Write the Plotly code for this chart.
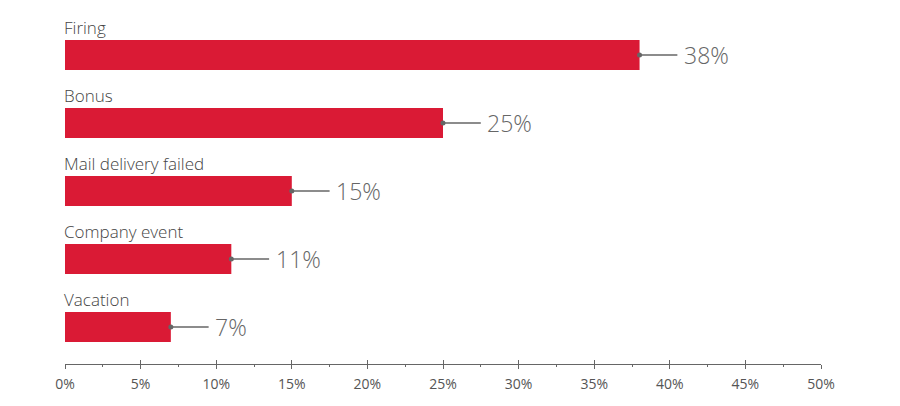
import plotly.graph_objects as go

categories = ["Firing", "Bonus", "Mail delivery failed", "Company event", "Vacation"]
values = [38, 25, 15, 11, 7]
tick_vals = [0, 5, 10, 15, 20, 25, 30, 35, 40, 45, 50]
tick_text = ["0%", "5%", "10%", "15%", "20%", "25%", "30%", "35%", "40%", "45%", "50%"]

bar_color = "#DA1A35"
grey = "#666666"
pos = list(range(len(categories)))

fig = go.Figure()

fig.add_trace(go.Bar(x=values, y=pos, orientation="h", width=0.44,
                     marker=dict(color=bar_color, line=dict(width=0)),
                     hoverinfo="skip"))

# leader lines from bar end to the value label
for i, v in enumerate(values):
    fig.add_trace(go.Scatter(x=[v, v + 2.5], y=[i, i], mode="lines",
                             line=dict(color=grey, width=1.3), hoverinfo="skip"))
    fig.add_trace(go.Scatter(x=[v], y=[i], mode="markers",
                             marker=dict(color=grey, size=5), hoverinfo="skip"))
    fig.add_annotation(x=v + 2.8, y=i, text=f"{v}%", showarrow=False,
                       xanchor="left", yanchor="middle",
                       font=dict(size=23, color="#666666", family="Open Sans", weight=300))
    fig.add_annotation(x=0, y=i - 0.41, text=categories[i], showarrow=False,
                       xanchor="left", yanchor="middle", xshift=-3,
                       font=dict(size=17, color="#444444", family="Open Sans", weight=300))

# second axis only to make the tick marks cross the axis line
fig.add_trace(go.Scatter(x=[0], y=[0], xaxis="x2", mode="markers",
                         marker=dict(opacity=0), hoverinfo="skip"))

axis_common = dict(range=[0, 50], showgrid=False, zeroline=False,
                   tickvals=tick_vals, ticklen=4, tickwidth=1.3, tickcolor=grey,
                   minor=dict(dtick=2.5, tick0=0, ticklen=2, tickwidth=1.3, tickcolor=grey))

fig.update_layout(
    width=900, height=406,
    margin=dict(l=57, r=87, t=0, b=50),
    paper_bgcolor="white", plot_bgcolor="white",
    showlegend=False,
    xaxis=dict(**axis_common, ticks="outside", ticktext=tick_text,
               showline=True, linecolor=grey, linewidth=1.3,
               tickfont=dict(size=14, color="#555555", family="Open Sans"),
               ticklabelstandoff=3),
    xaxis2=dict(**axis_common, ticks="inside", overlaying="x", side="bottom",
                anchor="y", showticklabels=False, showline=False),
    yaxis=dict(range=[4.544, -0.691], showgrid=False, zeroline=False,
               showticklabels=False, showline=False, ticks=""),
)

fig.write_html("out.html")
